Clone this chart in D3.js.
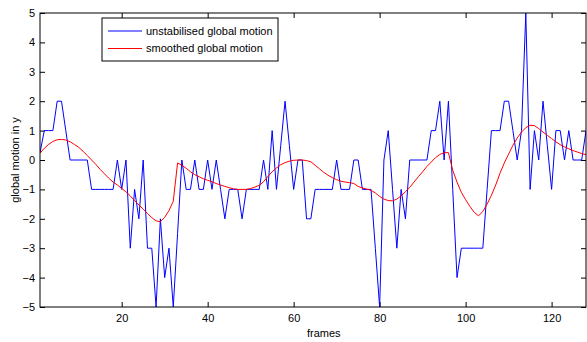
<!DOCTYPE html>
<html>
<head>
<meta charset="utf-8">
<script src="https://cdn.jsdelivr.net/npm/d3@7"></script>
<style>
  body { margin: 0; background: #fff; }
  svg text { font-family: "Liberation Sans", Arial, sans-serif; font-size: 11px; fill: #000; }
</style>
</head>
<body>
<div id="chart"></div>
<script>
// frame numbers 1..128 (x axis)
const frames = d3.range(1, 129);

// raw global motion in y, one value per frame
const unstabilised = [
  0.25, 1, 1, 1, 2, 2, 1, 0, 0, 0,
  0, 0, -1, -1, -1, -1, -1, -1, 0, -1,
  0, -3, -1, -2, 0, -3, -3, -5, -2, -4,
  -3, -5, -2.5, 0, -1, -1, 0, -1, -1, 0,
  -1, 0, -1, -2, -1, -1, -1, -2, -1, -1,
  -1, -1, 0, -1, 1, -1, 0.5, 2, 0.5, -1,
  0, 0, -2, -2, -1, -1, -1, -1, -1, 0,
  -1, -1, -1, 0, 0, -1, -1, -1, -3, -5,
  0, 1, -1, -3, -1, -2, 0, 0, 0, 0,
  0, 1, 1, 2, 0, 2, -1, -4, -3, -3,
  -3, -3, -3, -3, -1, 1, 1, 1, 2, 2,
  1, 0, 1, 5, -1, 1, 0, 2, 0.5, -1,
  1, 1, 0, 1, 0, 0, 0, 1
];

// smoothed global motion, one value per frame
const smoothed = [
  0.23, 0.40, 0.53, 0.63, 0.69, 0.70, 0.68, 0.62, 0.53, 0.43,
  0.30, 0.15, 0.00, -0.15, -0.32, -0.47, -0.62, -0.75, -0.85, -0.97,
  -1.08, -1.22, -1.38, -1.53, -1.67, -1.82, -1.96, -2.07, -2.10, -1.95,
  -1.72, -1.40, -0.10, -0.18, -0.28, -0.40, -0.50, -0.57, -0.64, -0.69,
  -0.74, -0.80, -0.85, -0.90, -0.94, -0.98, -1.00, -1.00, -1.00, -0.97,
  -0.92, -0.86, -0.74, -0.56, -0.40, -0.27, -0.16, -0.09, -0.04, -0.01,
  0.00, 0.00, -0.02, -0.06, -0.18, -0.30, -0.42, -0.52, -0.60, -0.67,
  -0.72, -0.75, -0.77, -0.80, -0.90, -0.95, -0.99, -1.03, -1.12, -1.24,
  -1.33, -1.38, -1.39, -1.33, -1.22, -1.08, -0.93, -0.75, -0.57, -0.40,
  -0.22, -0.07, 0.08, 0.19, 0.25, 0.25, -0.35, -0.75, -1.10, -1.35,
  -1.58, -1.78, -1.90, -1.75, -1.50, -1.20, -0.85, -0.45, -0.10, 0.20,
  0.50, 0.75, 0.95, 1.10, 1.18, 1.17, 1.07, 0.95, 0.84, 0.73,
  0.62, 0.52, 0.45, 0.38, 0.32, 0.27, 0.22, 0.18
];

const xTicks = [20, 40, 60, 80, 100, 120];
const yTicks = [-5, -4, -3, -2, -1, 0, 1, 2, 3, 4, 5];
const legendLabels = ['unstabilised global motion', 'smoothed global motion'];
const seriesColors = ['#0000ff', '#ff0000'];

const width = 587, height = 342;
const margin = { top: 13, right: 1, bottom: 35, left: 40 };
const plotW = width - margin.left - margin.right;
const plotH = height - margin.top - margin.bottom;

const svg = d3.select('#chart').append('svg').attr('width', width).attr('height', height);
const g = svg.append('g').attr('transform', `translate(${margin.left},${margin.top})`);

const x = d3.scaleLinear().domain([1, 128]).range([0, plotW]);
const y = d3.scaleLinear().domain([-5, 5]).range([plotH, 0]);

svg.append('defs').append('clipPath').attr('id', 'clip')
  .append('rect').attr('width', plotW).attr('height', plotH);

// axes with inward ticks, MATLAB style
const styleAxis = sel => {
  sel.select('.domain').remove();
  sel.selectAll('.tick line').attr('stroke', '#000');
};

g.append('g').attr('transform', `translate(0,${plotH})`)
  .call(d3.axisBottom(x).tickValues(xTicks).tickSize(-5).tickPadding(7))
  .call(styleAxis);
g.append('g')
  .call(d3.axisTop(x).tickValues(xTicks).tickSize(-5).tickFormat(''))
  .call(styleAxis);
g.append('g')
  .call(d3.axisLeft(y).tickValues(yTicks).tickSize(-5).tickPadding(5))
  .call(styleAxis);
g.append('g').attr('transform', `translate(${plotW},0)`)
  .call(d3.axisRight(y).tickValues(yTicks).tickSize(-5).tickFormat(''))
  .call(styleAxis);

g.selectAll('.tick text').style('font-family', '"Liberation Sans", Arial, sans-serif').style('font-size', '11px');

const lines = g.append('g').attr('clip-path', 'url(#clip)');
[unstabilised, smoothed].forEach((vals, i) => {
  const line = d3.line().x((d, j) => x(frames[j])).y(d => y(d));
  lines.append('path')
    .datum(vals)
    .attr('d', line)
    .attr('fill', 'none')
    .attr('stroke', seriesColors[i])
    .attr('stroke-width', 1);
});

// axes box
g.append('rect')
  .attr('width', plotW).attr('height', plotH)
  .attr('fill', 'none').attr('stroke', '#000').attr('stroke-width', 1);

// legend
const legend = g.append('g').attr('transform', 'translate(62,5)');
legend.append('rect').attr('width', 176).attr('height', 43)
  .attr('fill', '#fff').attr('stroke', '#000');
legendLabels.forEach((label, i) => {
  const ly = 13 + i * 17.5;
  legend.append('line').attr('x1', 6).attr('x2', 40).attr('y1', ly).attr('y2', ly)
    .attr('stroke', seriesColors[i]);
  legend.append('text').attr('x', 44).attr('y', ly).attr('dy', '0.35em').text(label);
});

// axis labels
svg.append('text')
  .attr('x', margin.left + x(67)).attr('y', 337)
  .attr('text-anchor', 'middle').text('frames');
svg.append('text')
  .attr('transform', `translate(19,${margin.top + plotH / 2}) rotate(-90)`)
  .attr('text-anchor', 'middle').text('global motion in y');
</script>
</body>
</html>
